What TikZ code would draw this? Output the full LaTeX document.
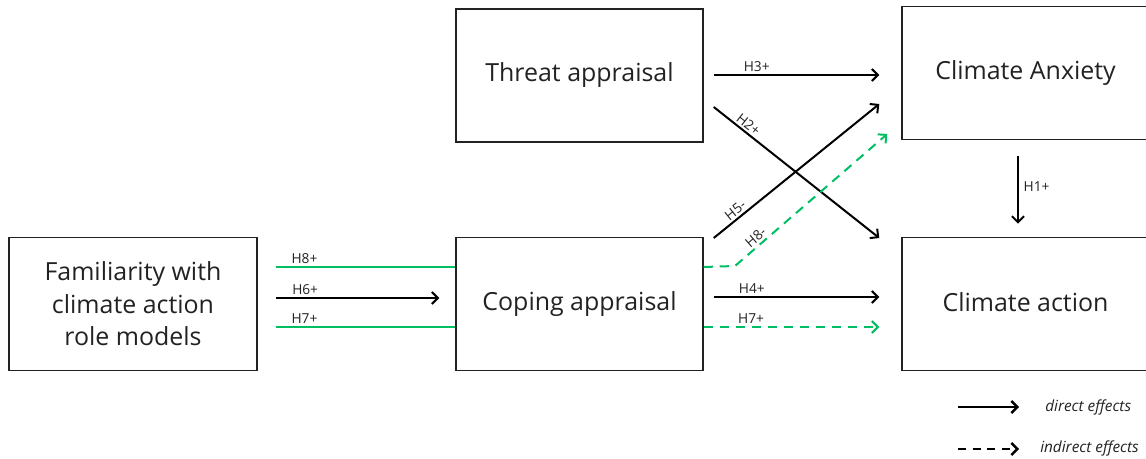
\documentclass[tikz,border=0pt]{standalone}
\usepackage{fontspec}
\setmainfont{Open Sans}
\usetikzlibrary{arrows.meta,calc}
\definecolor{grn}{HTML}{00BF63}
\definecolor{ink}{HTML}{222222}
\begin{document}
\begin{tikzpicture}[x=0.75pt,y=-0.75pt,
  box/.style={draw=ink, line width=1.1pt, minimum width=185.25pt, minimum height=100pt,
    inner sep=0pt, text=ink, align=center, font=\fontsize{18.7}{24.4}\selectfont},
  lab/.style={font=\fontsize{10.3}{12}\selectfont, text=ink, inner sep=1.5pt},
  leg/.style={font=\fontsize{11.5}{13}\selectfont\itshape, text=ink, inner sep=0pt, anchor=west},
  dir/.style={line width=1.5pt, draw=black, -{Straight Barb[length=4.5pt,width=9pt]}},
  ind/.style={dir, draw=grn, dash pattern=on 7pt off 5pt},
  feed/.style={line width=1.5pt, draw=grn}]
\useasboundingbox (0,0) rectangle (1146,459);
\clip (0,0) rectangle (1146,459);

% constructs
\node[box] (thr) at (579.5,75.5) {Threat appraisal};
\node[box] (anx) at (1025.5,73) {Climate Anxiety};
\node[box] (act) at (1025.5,304) {\raisebox{3pt}{Climate action}};
\node[box] (cop) at (579.5,304) {\raisebox{2pt}{Coping appraisal}};
\node[box, minimum width=186pt] (fam) at (133,304) {Familiarity with\\climate action\\role models};

% effects from threat appraisal
\draw[dir] ($(thr.east)+(10,-0.5)$) -- node[lab, above, pos=0.26] {H3+} ($(anx.west)+(-22,2)$);
\draw[dir] ($(thr.east)+(10,31.5)$) -- node[lab, above, sloped, pos=0.18] {H2+} ($(act.west)+(-22,-66)$);

% effects from coping appraisal
\draw[dir] ($(cop.east)+(10,-66)$) -- node[lab, above, sloped, pos=0.16] {H5-} ($(anx.west)+(-22,31)$);
\draw[ind] (cop.east |- 0,267) -- (735,266) -- node[lab, above, sloped, pos=0.17] {H8-} ($(anx.west)+(-14,61)$);
\draw[dir] ($(cop.east)+(10,-7)$) -- node[lab, above, pos=0.23] {H4+} ($(act.west)+(-22,-7)$);
\draw[ind] (cop.east |- 0,327) -- node[lab, above, pos=0.27] {H7+} ($(act.west)+(-22,23)$);

% anxiety to action
\draw[dir] ($(anx.south)+(-7.5,16)$) -- node[lab, right, pos=0.45, xshift=2pt] {H1+} ($(act.north)+(-7.5,-13)$);

% effects from familiarity
\draw[feed] ($(fam.east)+(18,-37)$) -- node[lab, above, pos=0.16] {H8+} (cop.west |- 0,267);
\draw[dir] ($(fam.east)+(18,-6)$) -- node[lab, above, pos=0.18] {H6+} ($(cop.west)+(-16,-6)$);
\draw[feed] ($(fam.east)+(18,23)$) -- node[lab, above, pos=0.16] {H7+} (cop.west |- 0,327);

% legend
\coordinate (d0) at (958,407);
\coordinate (d1) at (1019,407);
\coordinate (i0) at (958,449);
\coordinate (i1) at (1019,449);
\draw[dir, line width=1.8pt] (d0) -- (d1);
\draw[dir, line width=1.8pt, dash pattern=on 6pt off 5pt] (i0) -- (i1);
\node[leg] (ldir) at (1045,407) {direct effects};
\node[leg] (lind) at (1040,448) {indirect effects};
\end{tikzpicture}
\end{document}
